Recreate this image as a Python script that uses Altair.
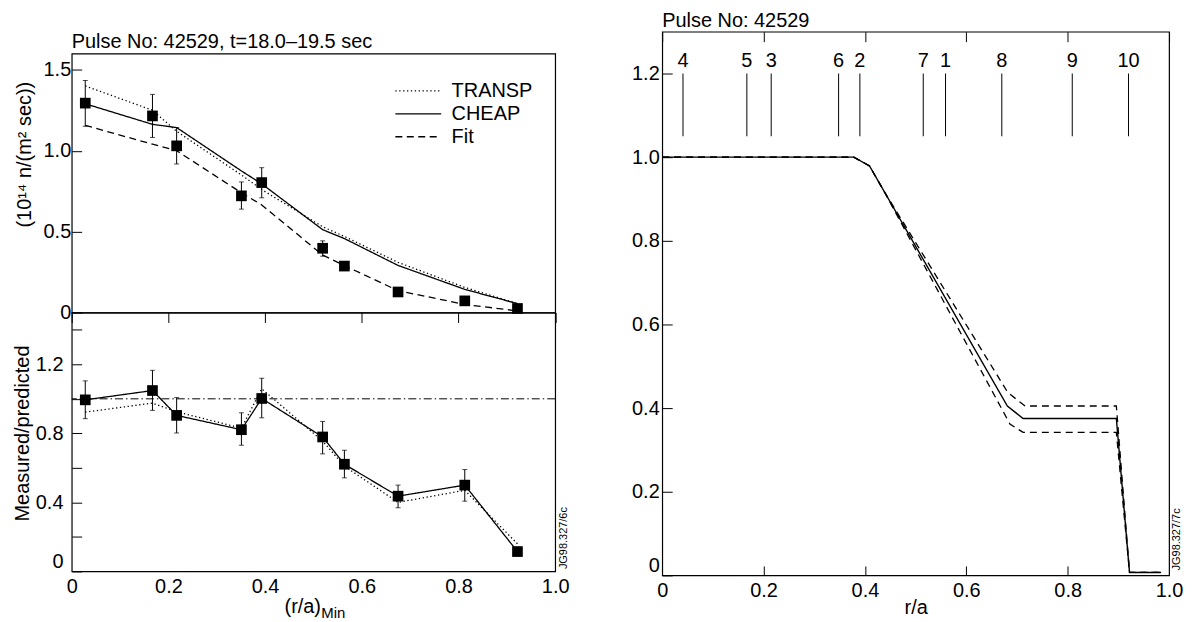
import altair as alt
import pandas as pd

FONT = "Liberation Sans"

# ---------------- data ----------------
# left panels: (r/a)_Min of the 10 channels
r_min = [0.028, 0.167, 0.217, 0.351, 0.393, 0.519, 0.564, 0.675, 0.813, 0.922]
# neutron emissivity (10^14 n/(m^2 sec))
emis_meas = [1.294, 1.215, 1.030, 0.721, 0.803, 0.397, 0.287, 0.127, 0.072, 0.025]
emis_lo = [1.151, 1.082, 0.918, 0.639, 0.709, 0.348, 0.265, 0.112, 0.060, 0.018]
emis_hi = [1.434, 1.348, 1.143, 0.807, 0.895, 0.443, 0.309, 0.142, 0.085, 0.032]
emis_transp = [1.40, 1.25, 1.12, 0.85, 0.76, 0.53, 0.47, 0.31, 0.155, 0.055]
emis_cheap = [1.29, 1.163, 1.143, 0.875, 0.795, 0.512, 0.457, 0.291, 0.143, 0.055]
emis_fit = [1.157, 1.04, 1.0, 0.74, 0.665, 0.355, 0.29, 0.135, 0.05, 0.01]
series_names = ["TRANSP", "CHEAP", "Fit"]

# measured / predicted
ratio_cheap = [0.994, 1.048, 0.904, 0.821, 1.002, 0.779, 0.621, 0.436, 0.500, 0.115]
ratio_lo = [0.885, 0.933, 0.802, 0.731, 0.890, 0.681, 0.542, 0.369, 0.407, 0.090]
ratio_hi = [1.104, 1.165, 1.007, 0.919, 1.119, 0.869, 0.702, 0.500, 0.590, 0.140]
ratio_transp = [0.923, 0.975, 0.925, 0.83, 1.058, 0.755, 0.61, 0.40, 0.47, 0.16]
ratio_ref = [1.0]

# right panel: profile vs r/a
prof_mid_r = [0.0, 0.378, 0.409, 0.681, 0.712, 0.896, 0.922, 0.984]
prof_mid = [1.0, 1.0, 0.979, 0.405, 0.375, 0.375, 0.007, 0.007]
prof_up_r = [0.0, 0.378, 0.409, 0.437, 0.682, 0.716, 0.896, 0.922, 0.984]
prof_up = [1.0, 1.0, 0.979, 0.92, 0.437, 0.405, 0.405, 0.007, 0.007]
prof_lo_r = [0.0, 0.378, 0.409, 0.437, 0.686, 0.712, 0.896, 0.922, 0.984]
prof_lo = [1.0, 1.0, 0.979, 0.92, 0.362, 0.342, 0.342, 0.007, 0.007]
chan_r = [0.041, 0.167, 0.215, 0.348, 0.390, 0.515, 0.559, 0.670, 0.809, 0.920]
chan_lbl = ["4", "5", "3", "6", "2", "7", "1", "8", "9", "10"]

title_left = "Pulse No: 42529, t=18.0–19.5 sec"
title_right = "Pulse No: 42529"
ytitle_top = "(10¹⁴ n/(m² sec))"
ytitle_bot = "Measured/predicted"
xtitle_left = "(r/a)"
xtitle_left_sub = "Min"
xtitle_right = "r/a"
code_left = "JG98.327/6c"
code_right = "JG98.327/7c"

LAB = "datum.value == 0 ? '0' : format(datum.value, '.1f')"
FS = 20
WL, HL = 485.5, 260
WR, HR = 509, 546
STRIP_L, STRIP_R = 45, 22.7


def ax(values, tick_len, **kw):
    base = dict(values=values, ticks=False, tickSize=0, domain=False, grid=True,
                gridDash=[tick_len, 4000], gridColor="black", gridWidth=1, gridOpacity=1,
                labelFontSize=FS, labelFont=FONT, labelColor="black",
                titleFont=FONT, titleFontSize=FS, titleFontWeight="normal",
                titleColor="black", title=None)
    base.update(kw)
    return alt.Axis(**base)


def txt(s, **kw):
    return alt.Chart(pd.DataFrame({"t": [s]})).mark_text(font=FONT, color="black", **kw)


def strip(s, w, h, base_y):
    return txt(s, fontSize=FS, align="left", baseline="alphabetic").encode(
        x=alt.value(0), y=alt.value(base_y), text="t:N"
    ).properties(width=w, height=h, view=alt.ViewBackground(stroke="transparent"))


# ---------------- left top ----------------
n = len(r_min)
xs_l = alt.Scale(domain=[0, 1], nice=False, zero=False)
ys_top = alt.Scale(domain=[0, 1.6], nice=False, zero=False)
ys_bot = alt.Scale(domain=[0, 1.5], nice=False, zero=False)

top_df = pd.DataFrame({"r": r_min * 3,
                       "v": emis_transp + emis_cheap + emis_fit,
                       "series": [s for s in series_names for _ in range(n)]})
meas_df = pd.DataFrame({"r": r_min, "v": emis_meas, "lo": emis_lo, "hi": emis_hi})

y_top_ax = ax([0, 0.5, 1.0, 1.5], 10, labelExpr=LAB, labelPadding=1, labelFlush=False,
              title=ytitle_top, titleAngle=270, titleX=-47, titleY=101,
              titleAlign="center", titleBaseline="middle")
xt = alt.X("r:Q", scale=xs_l, axis=None)


def yt(f):
    return alt.Y(f, scale=ys_top, axis=y_top_ax)


top_lines = alt.Chart(top_df).mark_line(color="black", strokeWidth=1.3).encode(
    x=xt, y=yt("v:Q"),
    strokeDash=alt.StrokeDash(
        "series:N",
        scale=alt.Scale(domain=series_names, range=[[1.3, 2.6], [1, 0], [7, 4.5]]),
        legend=alt.Legend(title=None, orient="none", legendX=324, legendY=72.5,
                          symbolType="stroke", symbolSize=2116, symbolStrokeWidth=1.3,
                          symbolStrokeColor="black", labelFontSize=FS, labelFont=FONT,
                          labelColor="black", labelOffset=9.5, rowPadding=3,
                          clipHeight=20, padding=0)))
top_err = alt.Chart(meas_df).mark_rule(color="black", strokeWidth=1).encode(
    x=xt, y=yt("lo:Q"), y2="hi:Q")
top_cap_lo = alt.Chart(meas_df).mark_tick(orient="horizontal", size=5, thickness=1,
                                          color="black").encode(x=xt, y=yt("lo:Q"))
top_cap_hi = alt.Chart(meas_df).mark_tick(orient="horizontal", size=5, thickness=1,
                                          color="black").encode(x=xt, y=yt("hi:Q"))
top_pts = alt.Chart(meas_df).mark_square(size=115, color="black", opacity=1).encode(
    x=xt, y=yt("v:Q"))

top = alt.layer(top_lines, top_err, top_cap_lo, top_cap_hi, top_pts).properties(
    width=WL, height=HL)

# ---------------- left bottom ----------------
bot_df = pd.DataFrame({"r": r_min * 2,
                       "v": ratio_transp + ratio_cheap,
                       "series": ["TRANSP"] * n + ["CHEAP"] * n})
rat_df = pd.DataFrame({"r": r_min, "v": ratio_cheap, "lo": ratio_lo, "hi": ratio_hi})

y_bot_ax = ax([0, 0.2, 0.4, 0.6, 0.8, 1.0, 1.2, 1.4], 10,
              labelExpr="round(datum.value*10) % 4 == 0 ? (datum.value == 0 ? '0' : format(datum.value, '.1f')) : ''",
              labelPadding=8.8, labelFlush=True,
              title=ytitle_bot, titleAngle=270, titleX=-49, titleY=121,
              titleAlign="center", titleBaseline="middle")
x_bot_ax = ax([0, 0.2, 0.4, 0.6, 0.8, 1.0], 10, labelExpr=LAB, labelPadding=5,
              labelFlush=False)
xb = alt.X("r:Q", scale=xs_l, axis=x_bot_ax)


def yb(f):
    return alt.Y(f, scale=ys_bot, axis=y_bot_ax)


bot_lines = alt.Chart(bot_df).mark_line(color="black", strokeWidth=1.3).encode(
    x=xb, y=yb("v:Q"),
    strokeDash=alt.StrokeDash(
        "series:N",
        scale=alt.Scale(domain=["TRANSP", "CHEAP"], range=[[1.3, 2.6], [1, 0]]),
        legend=None))
bot_ref = alt.Chart(pd.DataFrame({"v": ratio_ref})).mark_rule(
    color="black", strokeWidth=1, strokeDash=[8, 3, 1.5, 3]).encode(y=yb("v:Q"))
bot_err = alt.Chart(rat_df).mark_rule(color="black", strokeWidth=1).encode(
    x=xb, y=yb("lo:Q"), y2="hi:Q")
bot_cap_lo = alt.Chart(rat_df).mark_tick(orient="horizontal", size=5, thickness=1,
                                         color="black").encode(x=xb, y=yb("lo:Q"))
bot_cap_hi = alt.Chart(rat_df).mark_tick(orient="horizontal", size=5, thickness=1,
                                         color="black").encode(x=xb, y=yb("hi:Q"))
bot_pts = alt.Chart(rat_df).mark_square(size=115, color="black", opacity=1).encode(
    x=xb, y=yb("v:Q"))
bot_xt = txt(xtitle_left, fontSize=FS, align="center", baseline="alphabetic").encode(
    x=alt.value(232), y=alt.value(302), text="t:N")
bot_xs = txt(xtitle_left_sub, fontSize=15, align="left", baseline="alphabetic").encode(
    x=alt.value(250.6), y=alt.value(306.5), text="t:N")
bot_code = txt(code_left, fontSize=11, align="left", baseline="middle", angle=270).encode(
    x=alt.value(WL + 8.8), y=alt.value(257.7), text="t:N")

bottom = alt.layer(bot_ref, bot_lines, bot_err, bot_cap_lo, bot_cap_hi, bot_pts,
                   bot_xt, bot_xs, bot_code).properties(width=WL, height=HL)

left = alt.vconcat(strip(title_left, WL, STRIP_L, 39.7), top, bottom,
                   spacing=0, bounds="flush")

# ---------------- right ----------------
xs_r = alt.Scale(domain=[0, 1], nice=False, zero=False)
ys_r = alt.Scale(domain=[0, 1.3], nice=False, zero=False)
y_r_ax = ax([0, 0.2, 0.4, 0.6, 0.8, 1.0, 1.2], 10, labelExpr=LAB, labelPadding=3,
            labelFlush=True)
x_r_ax = ax([0, 0.2, 0.4, 0.6, 0.8, 1.0], 10, labelExpr=LAB, labelPadding=5,
            labelFlush=False, title=xtitle_right, titleY=38.7,
            titleBaseline="alphabetic", orient="bottom")
x_r_top = ax([0.2, 0.4, 0.6, 0.8], 9.5, labels=False, orient="top")

mid_df = pd.DataFrame({"r": prof_mid_r, "v": prof_mid})
up_df = pd.DataFrame({"r": prof_up_r, "v": prof_up})
lo_df = pd.DataFrame({"r": prof_lo_r, "v": prof_lo})
chan_df = pd.DataFrame({"r": chan_r, "lbl": chan_lbl})


def yr(f):
    return alt.Y(f, scale=ys_r, axis=y_r_ax)


r_mid = alt.Chart(mid_df).mark_line(color="black", strokeWidth=1.4).encode(
    x=alt.X("r:Q", scale=xs_r, axis=x_r_ax), y=yr("v:Q"))
r_up = alt.Chart(up_df).mark_line(color="black", strokeWidth=1.3, strokeDash=[7, 5]).encode(
    x=alt.X("r:Q", scale=xs_r, axis=None), y=yr("v:Q"))
r_lo = alt.Chart(lo_df).mark_line(color="black", strokeWidth=1.3, strokeDash=[7, 5]).encode(
    x=alt.X("r:Q", scale=xs_r, axis=None), y=yr("v:Q"))
r_ch = alt.Chart(chan_df).mark_rule(color="black", strokeWidth=1).encode(
    x=alt.X("r:Q", scale=xs_r, axis=x_r_top),
    y=alt.YDatum(1.05, scale=ys_r, axis=y_r_ax), y2=alt.datum(1.2))
r_chl = alt.Chart(chan_df).mark_text(font=FONT, fontSize=FS, color="black",
                                     align="center", baseline="middle").encode(
    x=alt.X("r:Q", scale=xs_r, axis=None),
    y=alt.YDatum(1.229, scale=ys_r, axis=y_r_ax), text="lbl:N")
r_code = txt(code_right, fontSize=11, align="left", baseline="middle", angle=270).encode(
    x=alt.value(WR + 8), y=alt.value(541), text="t:N")

right_plot = alt.layer(r_mid, r_up, r_lo, r_ch, r_chl, r_code).resolve_axis(
    x="independent").properties(width=WR, height=HR)

right = alt.vconcat(strip(title_right, WR, STRIP_R, 18.3), right_plot,
                    spacing=0, bounds="flush")

chart = alt.hconcat(left, right, spacing=60).properties(
    padding={"left": 4, "top": -1.5, "right": 0, "bottom": 0}
).configure(font=FONT).configure_view(stroke="black", strokeWidth=1.2)

chart.save("out.html", embed_options={"renderer": "svg", "actions": False})
